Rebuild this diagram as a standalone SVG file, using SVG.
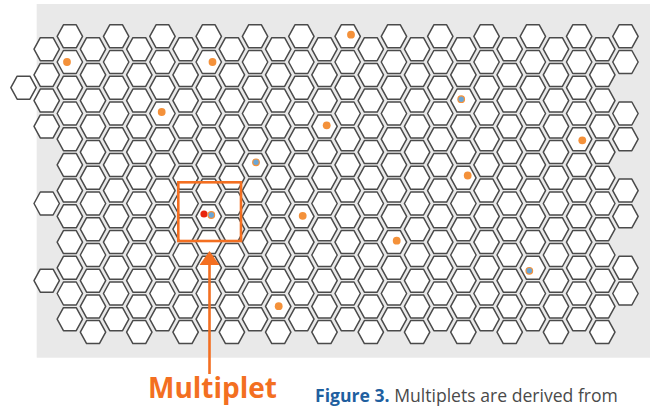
<svg xmlns="http://www.w3.org/2000/svg" xmlns:xlink="http://www.w3.org/1999/xlink" width="650" height="408" viewBox="0 0 650 408">
<style>
.hx{fill:#fff;stroke:#4a4a4a;stroke-width:1.5;stroke-linejoin:round}
.dot{fill:#f4913a}
.blue{fill:#6aa6d6;stroke:#f4913a;stroke-width:1.2}
.accent{stroke:#f36f21;fill:none}
</style>
<defs>
<polygon id="h" class="hx" points="-12.7,0 -6.4,-11.5 6.4,-11.5 12.7,0 6.4,11.5 -6.4,11.5"/>
<g id="colO">
<use href="#h" y="36.3"/><use href="#h" y="62.0"/><use href="#h" y="87.7"/><use href="#h" y="113.5"/><use href="#h" y="139.2"/><use href="#h" y="164.9"/><use href="#h" y="190.6"/><use href="#h" y="216.3"/><use href="#h" y="242.1"/><use href="#h" y="267.8"/><use href="#h" y="293.5"/><use href="#h" y="319.2"/>
</g>
<g id="colE">
<use href="#h" y="49.2"/><use href="#h" y="74.9"/><use href="#h" y="100.6"/><use href="#h" y="126.4"/><use href="#h" y="152.1"/><use href="#h" y="177.8"/><use href="#h" y="203.5"/><use href="#h" y="229.2"/><use href="#h" y="255.0"/><use href="#h" y="280.7"/><use href="#h" y="306.4"/><use href="#h" y="332.1"/>
</g>
</defs>
<rect id="background" x="36.7" y="4" width="613.3" height="353.7" fill="#e9e9e9"/>
<g id="hex-grid">
<use href="#h" x="23.55" y="87.7"/>
<g id="col0">
<use href="#h" x="46.7" y="49.2"/><use href="#h" x="46.7" y="74.9"/><use href="#h" x="46.7" y="100.6"/><use href="#h" x="46.7" y="126.4"/><use href="#h" x="46.7" y="203.5"/><use href="#h" x="46.7" y="280.7"/>
</g>
<use href="#colO" x="69.85"/>
<use href="#colE" x="93.0"/>
<use href="#colO" x="116.15"/>
<use href="#colE" x="139.3"/>
<use href="#colO" x="162.45"/>
<use href="#colE" x="185.6"/>
<use href="#colO" x="208.75"/>
<use href="#colE" x="231.9"/>
<use href="#colO" x="255.05"/>
<use href="#colE" x="278.2"/>
<use href="#colO" x="301.35"/>
<use href="#colE" x="324.5"/>
<use href="#colO" x="347.65"/>
<use href="#colE" x="370.8"/>
<use href="#colO" x="393.95"/>
<use href="#colE" x="417.1"/>
<use href="#colO" x="440.25"/>
<use href="#colE" x="463.4"/>
<use href="#colO" x="486.55"/>
<use href="#colE" x="509.7"/>
<use href="#colO" x="532.85"/>
<use href="#colE" x="556.0"/>
<use href="#colO" x="579.15"/>
<use href="#colE" x="602.3"/>
<g id="col25">
<use href="#h" x="625.45" y="36.3"/><use href="#h" x="625.45" y="62.0"/><use href="#h" x="625.45" y="113.5"/><use href="#h" x="625.45" y="139.2"/><use href="#h" x="625.45" y="190.6"/><use href="#h" x="625.45" y="216.3"/><use href="#h" x="625.45" y="267.8"/><use href="#h" x="625.45" y="293.5"/>
</g>
</g>
<g id="dots">
<circle class="dot" cx="67" cy="62" r="3.9"/>
<circle class="dot" cx="212.5" cy="62" r="3.9"/>
<circle class="dot" cx="161.7" cy="112" r="3.9"/>
<circle class="dot" cx="351" cy="34.7" r="3.9"/>
<circle class="dot" cx="326.7" cy="125.3" r="3.9"/>
<circle class="dot" cx="582.3" cy="140.3" r="3.9"/>
<circle class="dot" cx="467.7" cy="175.5" r="3.9"/>
<circle class="dot" cx="302.7" cy="215.8" r="3.9"/>
<circle class="dot" cx="396.7" cy="240.7" r="3.9"/>
<circle class="dot" cx="278.7" cy="306.2" r="3.9"/>
<circle class="blue" cx="256" cy="162.3" r="3.3"/>
<circle class="blue" cx="461.2" cy="99.2" r="3.3"/>
<circle class="blue" cx="529.3" cy="270.8" r="3.3"/>
</g>
<g id="multiplet">
<rect class="accent" x="178.3" y="182.3" width="62.7" height="58.7" stroke-width="2.6"/>
<circle cx="204" cy="214" r="3.6" fill="#e8250c"/>
<circle class="blue" cx="211.3" cy="215" r="3.3"/>
</g>
<g id="connectors">
<line class="accent" x1="209.5" y1="262" x2="209.5" y2="374" stroke-width="2.6"/>
<polygon points="209.5,251 199.5,265 219.5,265" fill="#f36f21"/>
</g>
<g id="labels">
<text x="148" y="397.5" font-family="'Open Sans', 'Noto Sans', sans-serif" font-weight="bold" font-size="28" fill="#f36f21">Multiplet</text>
<text x="315" y="401.5" font-family="'Open Sans', 'Noto Sans', sans-serif" font-size="17.6" fill="#4a4a4a"><tspan font-weight="bold" fill="#1f5f9f">Figure 3.</tspan> Multiplets are derived from</text>
</g>
</svg>
